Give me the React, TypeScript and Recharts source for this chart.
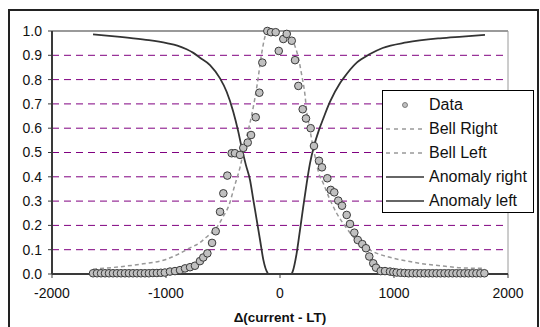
import React from "react";
import {
  ComposedChart,
  Scatter,
  Line,
  XAxis,
  YAxis,
  CartesianGrid,
  ReferenceLine,
  Label,
} from "recharts";

const xTicks = [-2000, -1000, 0, 1000, 2000];
const yTicks = [0, 0.1, 0.2, 0.3, 0.4, 0.5, 0.6, 0.7, 0.8, 0.9, 1.0];
const xTitle = "Δ(current - LT)";
const seriesNames = ["Data", "Bell Right", "Bell Left", "Anomaly right", "Anomaly left"];

const dataX = [
  -1640, -1605, -1570, -1535, -1500, -1465, -1430, -1395, -1360, -1325, -1290, -1255, -1220, -1185,
  -1150, -1115, -1080, -1045, -1010,
  -965, -921, -877, -833, -789, -746, -702, -673, -637, -596, -564, -526, -497, -462, -424, -395,
  -351, -322, -283, -254, -213, -181, -155, -111, -79, -38, -11, 29, 59, 103, 132, 161, 199, 228,
  269, 298, 342, 368, 415, 445, 476, 511, 544, 585, 614, 652, 682, 722, 754, 783, 818, 842, 883,
  921, 965, 994,
  1023, 1058, 1093, 1128, 1163, 1198, 1233, 1268, 1303, 1338, 1373, 1408, 1443, 1478, 1513, 1548,
  1583, 1618, 1653, 1688, 1723, 1758, 1793,
];
const dataY = [
  0.003, 0.003, 0.003, 0.003, 0.003, 0.003, 0.003, 0.003, 0.003, 0.003, 0.003, 0.003, 0.003, 0.003,
  0.003, 0.004, 0.004, 0.005, 0.006,
  0.01, 0.012, 0.016, 0.023, 0.028, 0.034, 0.053, 0.068, 0.085, 0.128, 0.176, 0.256, 0.332, 0.405,
  0.497, 0.497, 0.49, 0.519, 0.541, 0.572, 0.645, 0.746, 0.87, 1.0, 0.995, 0.995, 0.918, 0.967,
  0.988, 0.96, 0.88, 0.774, 0.678, 0.64, 0.6, 0.527, 0.466, 0.439, 0.394, 0.346, 0.336, 0.302,
  0.281, 0.243, 0.206, 0.17, 0.14, 0.123, 0.106, 0.072, 0.044, 0.026, 0.012, 0.012, 0.01, 0.008,
  0.006, 0.005, 0.004, 0.003, 0.003, 0.003, 0.003, 0.003, 0.003, 0.003, 0.003, 0.003, 0.003, 0.003,
  0.003, 0.003, 0.003, 0.003, 0.003, 0.003, 0.003, 0.003, 0.003,
];

const bellRightX = [80, 117, 161, 190, 219, 234, 260, 300, 351, 366, 439, 497, 585, 629, 700, 760, 850, 994, 1150, 1287, 1450, 1579, 1798];
const bellRightY = [1.0, 0.956, 0.89, 0.82, 0.737, 0.67, 0.6, 0.5, 0.4, 0.387, 0.305, 0.25, 0.188, 0.16, 0.125, 0.106, 0.085, 0.065, 0.05, 0.04, 0.032, 0.026, 0.023];

const bellLeftX = [-1640, -1400, -1200, -1000, -900, -800, -700, -650, -600, -550, -500, -450, -400, -350, -300, -250, -200, -160, -130, -110];
const bellLeftY = [0.02, 0.03, 0.042, 0.06, 0.08, 0.105, 0.13, 0.15, 0.17, 0.195, 0.235, 0.28, 0.36, 0.44, 0.55, 0.65, 0.78, 0.91, 0.98, 1.0];

const anomalyRightX = [0, 100, 111, 146, 175, 204, 234, 263, 300, 340, 380, 439, 526, 556, 673, 789, 900, 1111, 1404, 1600, 1798];
const anomalyRightY = [0, 0, 0.01, 0.085, 0.18, 0.277, 0.373, 0.455, 0.53, 0.59, 0.64, 0.709, 0.785, 0.805, 0.87, 0.905, 0.93, 0.953, 0.97, 0.977, 0.984];

const anomalyLeftX = [-1640, -1450, -1287, -1150, -994, -900, -819, -760, -702, -614, -526, -468, -410, -366, -336, -300, -263, -234, -204, -175, -146, -110, -100, 0];
const anomalyLeftY = [0.986, 0.978, 0.97, 0.962, 0.95, 0.94, 0.925, 0.91, 0.89, 0.86, 0.805, 0.75, 0.668, 0.586, 0.52, 0.45, 0.387, 0.305, 0.222, 0.14, 0.058, 0.005, 0, 0];

const zip = (xs: number[], ys: number[]) => xs.map((x, i) => ({ x, y: ys[i] }));

const scatterData = zip(dataX, dataY);
const bellRightData = zip(bellRightX, bellRightY);
const bellLeftData = zip(bellLeftX, bellLeftY);
const anomalyRightData = zip(anomalyRightX, anomalyRightY);
const anomalyLeftData = zip(anomalyLeftX, anomalyLeftY);

const FONT = "'Liberation Sans', Arial, sans-serif";

const DataDot = (props: any) => (
  <circle cx={props.cx} cy={props.cy} r={3.8} fill="#c0c0c0" stroke="#3a3a3a" strokeWidth={1} />
);

const LegendMarker = ({ kind }: { kind: string }) => (
  <svg width={42} height={24} style={{ display: "block" }}>
    {kind === "dot" && <circle cx={21} cy={12} r={2.5} fill="#c0c0c0" stroke="#666" strokeWidth={0.8} />}
    {kind === "dash" && <line x1={2} y1={12} x2={40} y2={12} stroke="#999" strokeWidth={1.5} strokeDasharray="4 4" />}
    {kind === "solid" && <line x1={2} y1={12} x2={40} y2={12} stroke="#333" strokeWidth={1.5} />}
  </svg>
);

const markerKinds = ["dot", "dash", "dash", "solid", "solid"];

export default function App() {
  return (
    <div
      style={{
        position: "absolute",
        left: 0,
        top: 0,
        width: 540,
        height: 327,
        overflow: "hidden",
        background: "#fff",
        fontFamily: FONT,
      }}
    >
      <div
        style={{
          position: "absolute",
          left: 8,
          top: 9,
          width: 527,
          height: 340,
          border: "2px solid #222",
        }}
      />
      <div style={{ position: "absolute", left: 0, top: 0 }}>
        <ComposedChart width={540} height={327} margin={{ top: 31, right: 32, left: 0, bottom: 0 }}>
          <CartesianGrid
            horizontal={true}
            vertical={false}
            stroke="#800080"
            strokeDasharray="7 5"
            strokeWidth={1}
          />
          <XAxis
            dataKey="x"
            type="number"
            domain={[-2000, 2000]}
            ticks={xTicks}
            height={53}
            tickSize={4}
            tickMargin={10}
            axisLine={{ stroke: "#3a3a3a", strokeWidth: 2 }}
            tickLine={{ stroke: "#3a3a3a" }}
            tick={{ fill: "#111", fontSize: 14, fontFamily: FONT }}
            interval={0}
          >
            <Label
              value={xTitle}
              position="insideBottom"
              offset={5}
              style={{ fontSize: 13.5, fontWeight: "bold", fill: "#111", fontFamily: FONT }}
            />
          </XAxis>
          <YAxis
            dataKey="y"
            type="number"
            domain={[0, 1]}
            ticks={yTicks}
            width={52}
            tickSize={4}
            tickMargin={6}
            axisLine={{ stroke: "#3a3a3a", strokeWidth: 2 }}
            tickLine={{ stroke: "#3a3a3a" }}
            tick={{ fill: "#111", fontSize: 14, fontFamily: FONT }}
            tickFormatter={(v: number) => v.toFixed(1)}
            interval={0}
          />
          <ReferenceLine y={1} stroke="#9a9a9a" strokeWidth={2} />
          <ReferenceLine x={2000} stroke="#9a9a9a" strokeWidth={1} />
          <Scatter
            name={seriesNames[0]}
            data={scatterData}
            dataKey="y"
            shape={DataDot}
            isAnimationActive={false}
          />
          <Line
            name={seriesNames[1]}
            data={bellRightData}
            dataKey="y"
            type="monotone"
            stroke="#999"
            strokeWidth={1.5}
            strokeDasharray="4 3"
            dot={false}
            activeDot={false}
            isAnimationActive={false}
          />
          <Line
            name={seriesNames[2]}
            data={bellLeftData}
            dataKey="y"
            type="monotone"
            stroke="#999"
            strokeWidth={1.5}
            strokeDasharray="4 3"
            dot={false}
            activeDot={false}
            isAnimationActive={false}
          />
          <Line
            name={seriesNames[3]}
            data={anomalyRightData}
            dataKey="y"
            type="monotone"
            stroke="#333"
            strokeWidth={1.8}
            dot={false}
            activeDot={false}
            isAnimationActive={false}
          />
          <Line
            name={seriesNames[4]}
            data={anomalyLeftData}
            dataKey="y"
            type="monotone"
            stroke="#333"
            strokeWidth={1.8}
            dot={false}
            activeDot={false}
            isAnimationActive={false}
          />
        </ComposedChart>
      </div>
      <div
        style={{
          position: "absolute",
          left: 382,
          top: 90,
          width: 150,
          height: 119,
          border: "1px solid #000",
          background: "#fff",
          paddingTop: 2,
          boxSizing: "content-box",
        }}
      >
        {seriesNames.map((name, i) => (
          <div key={name} style={{ display: "flex", alignItems: "center", height: 24 }}>
            <div style={{ width: 45, paddingLeft: 1 }}>
              <LegendMarker kind={markerKinds[i]} />
            </div>
            <span style={{ fontSize: 16, color: "#111", whiteSpace: "nowrap", lineHeight: "24px" }}>{name}</span>
          </div>
        ))}
      </div>
    </div>
  );
}
